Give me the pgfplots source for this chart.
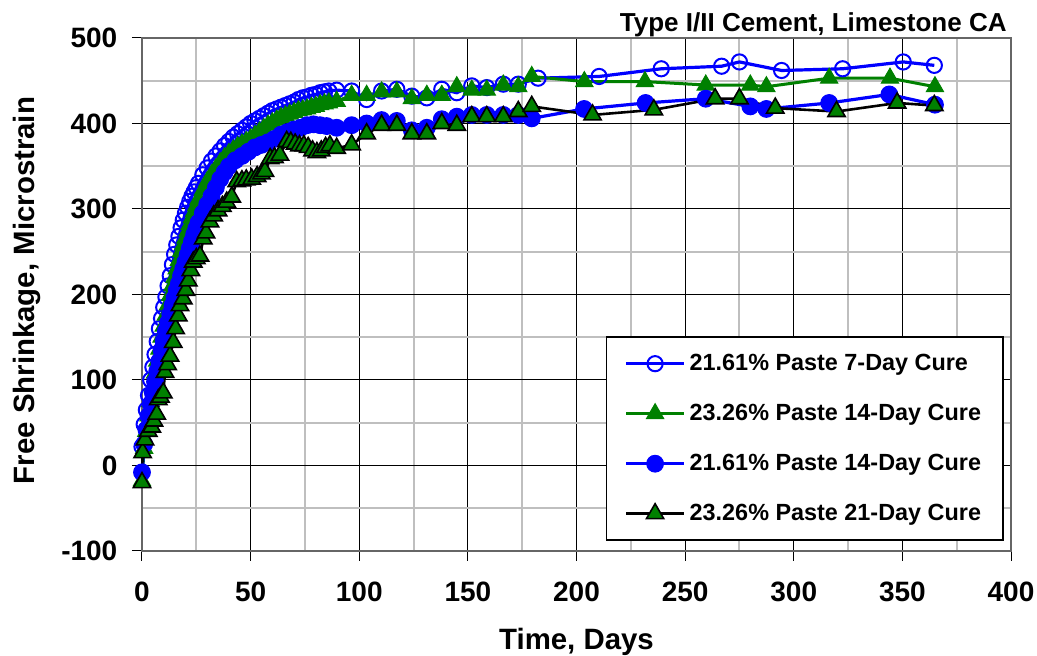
\documentclass[border=0pt]{standalone}
\usepackage{fontspec}
\setmainfont{Liberation Sans}
\usepackage{pgfplots}
\pgfplotsset{compat=1.18}
\definecolor{xlgreen}{RGB}{0,128,0}
\definecolor{xlblue}{RGB}{0,0,255}
\begin{document}
\begin{tikzpicture}
\useasboundingbox (-71pt,-52.5pt) rectangle (447.5pt,275.5pt);
\begin{axis}[
  at={(0,0)}, anchor=south west,
  scale only axis, width=434.5pt, height=256.5pt,
  xmin=0, xmax=400, ymin=-100, ymax=500,
  xtick={0,50,...,400}, ytick={-100,0,...,500},
  xticklabels={0,50,100,150,200,250,300,350,400},
  yticklabels={-100,0,100,200,300,400,500},
  minor tick num=1, minor tick length=0pt,
  major tick length=5pt, tick align=outside,
  xtick pos=bottom, ytick pos=left,
  tick style={black, line width=0.5pt},
  grid=both,
  major grid style={black, line width=0.5pt},
  minor grid style={black!25, line width=1pt},
  axis line style={black!60, line width=0.9pt},
  ticklabel style={font=\fontsize{14}{14}\selectfont\bfseries},
  xticklabel style={yshift=-7pt},
  yticklabel style={xshift=-3.8pt},
  every axis x label/.style={at={(axis description cs:0.5,0)}, anchor=base, yshift=-49.5pt, font=\fontsize{14.7}{14.7}\selectfont\bfseries},
  every axis y label/.style={at={([xshift=-53.5pt, yshift=2pt]axis description cs:0,0.5)}, anchor=base, rotate=90, font=\fontsize{14.7}{14.7}\selectfont\bfseries},
  xlabel={Time, Days},
  ylabel={Free Shrinkage, Microstrain},
  clip=false,
  legend cell align=left,
  legend style={at={(0.5336,0.0195)}, anchor=south west, draw=black, line width=0.8pt,
    inner xsep=9pt, inner ysep=5.5pt, row sep=9.5pt,
    nodes={font=\fontsize{11.7}{11.7}\selectfont\bfseries, text height=9pt, text depth=2.5pt, inner sep=2pt}},
  legend image code/.code={\draw[mark repeat=2,mark phase=2,#1] plot coordinates {(0pt,0pt) (14.5pt,0pt) (29pt,0pt)};},
]
% 21.61% Paste 7-Day Cure
\addplot[color=xlblue, line width=1.6pt, mark=o, mark size=3.8pt, mark options={line width=1pt, draw=xlblue}] coordinates {
(0,22) (1,48) (2,65) (3,82) (4,100) (5,115) (6,130) (7,145) (8,160) (9,172) (10,185) (11,197) (12,210) (13,222) (14,235) (15,247) (16,258) (17,268) (18,278) (19,287) (20,295) (21,302) (22,309) (23,315) (24,320) (25,325) (26,330) (28,340) (30,348) (32,356) (34,362) (36,368) (38,374) (40,379) (42,384) (44,388) (46,392) (48,396) (50,400) (52,403) (54,406) (56,409) (58,412) (60,415) (62,417) (64,419) (66,421) (68,423) (70,425) (72,428) (74,430) (76,431) (78,433) (80,434) (82,436) (84,437) (86,438) (89.6,439) (96.5,438) (103.4,428) (110.3,438) (117.3,440) (124.2,432) (131.1,430) (138,440) (144.9,436) (151.8,444) (158.7,442) (166.3,446) (173.2,446) (182.3,453) (210.4,455) (239,464) (266.8,467) (275,472) (294.4,462) (322.5,464) (350.4,472) (364.7,468)
};
\addlegendentry{21.61\% Paste 7-Day Cure}
% 23.26% Paste 14-Day Cure
\addplot[color=xlgreen, line width=1.5pt, mark=triangle*, mark size=5pt, mark options={line width=0.5pt, fill=xlgreen, draw=xlgreen}] coordinates {
(0,-18) (1,20) (2,40) (3,58) (4,75) (5,92) (6,108) (7,122) (8,136) (9,150) (10,163) (11,176) (12,188) (13,199) (14,210) (15,220) (16,230) (17,240) (18,250) (19,258) (20,266) (21,274) (22,282) (23,290) (24,297) (25,304) (26,311) (28,322) (30,332) (32,340) (34,347) (36,354) (38,360) (40,365) (42,369) (44,373) (46,376) (48,379) (50,382) (52,386) (54,390) (56,394) (58,398) (60,401) (62,404) (64,407) (66,409) (68,411) (70,413) (72,415) (74,416) (76,417) (78,419) (80,420) (82,422) (84,423) (86,424) (89.6,426) (96.5,433) (103.4,433) (110.3,437) (117.3,437) (124.2,429) (131.1,433) (138,433) (144.9,443) (151.8,439) (158.7,439) (166.3,445) (173.2,443) (179.4,455) (203.6,449) (231.5,449) (259.5,445) (280,445) (287.4,443) (316.3,453) (344.3,453) (365,443)
};
\addlegendentry{23.26\% Paste 14-Day Cure}
% 21.61% Paste 14-Day Cure
\addplot[color=xlblue, line width=1.6pt, mark=*, mark size=4.2pt, mark options={fill=xlblue, draw=xlblue, line width=0.5pt}] coordinates {
(0,-8) (1,25) (2,42) (3,58) (4,72) (5,85) (6,98) (7,110) (8,122) (9,135) (10,146) (11,157) (12,167) (13,177) (14,187) (15,196) (16,205) (17,213) (18,222) (19,230) (20,238) (21,246) (22,254) (23,262) (24,270) (25,277) (26,284) (28,295) (30,305) (32,315) (34,325) (36,335) (38,343) (40,350) (43,357) (46,362) (49,367) (52,372) (55,375) (58,378) (61,382) (64,387) (67,390) (70,393) (73,395) (76,398) (79,399) (82,398) (85,397) (89.6,395) (96.5,398) (103.4,400) (110.3,404) (117.3,403) (124.2,392) (131.1,395) (138,405) (144.9,408) (151.8,410) (158.7,410) (166.3,410) (173.2,410) (179.4,406) (203.5,417) (231.8,424) (259.5,429) (280,420) (287.4,417) (316.3,424) (344,434) (365,422)
};
\addlegendentry{21.61\% Paste 14-Day Cure}
% 23.26% Paste 21-Day Cure
\addplot[color=black, line width=1.3pt, mark=triangle*, mark size=5pt, mark options={fill=xlgreen, draw=black, line width=0.8pt}] coordinates {
(0,-20) (0.3,15) (1.4,30) (2.9,40) (4.5,45) (5.5,52) (6.8,60) (7.5,77) (8.5,80) (9.8,85) (10.6,109) (11.8,118) (12.9,128) (14.4,144) (15.5,160) (16.7,175) (17.5,187) (19,195) (20.2,205) (21.3,216) (22.5,228) (23.6,238) (25,242) (26.7,245) (28.2,265) (29.5,272) (31.3,285) (33,292) (35,298) (37,303) (39,308) (41.3,314) (43.6,332) (46,333) (48,334) (50.5,335) (53,338) (55,341) (56.6,344) (59,359) (61,360) (63.5,363) (66.6,379) (68.5,378) (70.5,376) (72.5,374) (74.5,374) (76.5,372) (78.5,368) (80.5,366) (82.5,368) (84.5,372) (86.5,374) (89.6,371) (96.5,375) (103.4,388) (110.3,398) (117.3,398) (124.2,388) (131.1,388) (138,400) (144.9,398) (151.8,408) (158.7,408) (166.3,408) (173.2,414) (179.4,420) (207.4,410) (235.6,416) (263.8,429) (275,429) (291.5,418) (319.7,414) (347.6,424) (364.7,421)
};
\addlegendentry{23.26\% Paste 21-Day Cure}
\node[anchor=base east, inner sep=0pt, font=\fontsize{13}{13}\selectfont\bfseries] at ([xshift=-2pt, yshift=3pt]rel axis cs:1,1) {Type I/II Cement, Limestone CA};
\end{axis}
\end{tikzpicture}
\end{document}
